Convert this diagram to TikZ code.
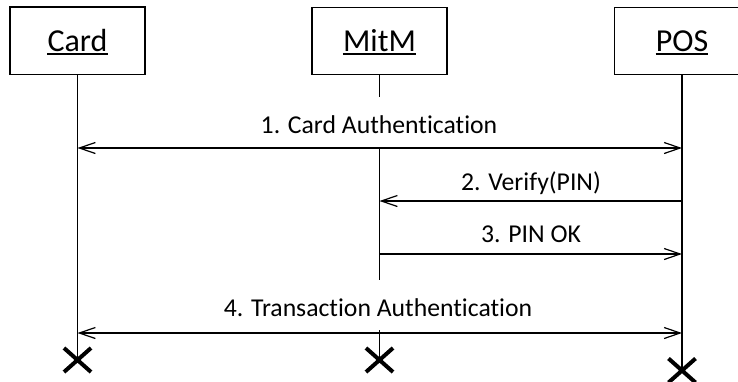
\documentclass[tikz,border=0pt]{standalone}
\usepackage{fontspec}
\setmainfont{Carlito}[Ligatures=NoCommon]
\usetikzlibrary{arrows.meta,shapes.misc}
\begin{document}
\begin{tikzpicture}[x=1pt,y=-1pt,
  mybarb/.tip={Straight Barb[length=16pt,width=11pt]},
  box/.style={draw,line width=1.2pt,minimum width=135pt,minimum height=67.5pt,inner sep=0pt},
  who/.style={inner sep=0pt,anchor=base,font=\fontsize{32}{36}\selectfont},
  msg/.style={inner sep=0pt,anchor=base,fill=white,text height=36pt,text depth=14pt,font=\fontsize{25.7}{30}\selectfont},
  uline/.style={line width=1.5pt},
  life/.style={line width=1.2pt},
  both/.style={line width=1.2pt,{mybarb}-{mybarb}},
  one/.style={line width=1.2pt,-{mybarb}},
  xm/.style={cross out,draw,line width=4pt,minimum width=23pt,minimum height=20pt,inner sep=0pt}]
\useasboundingbox (0,0) rectangle (738,381);
% actors
\node[box] (card) at (77.5,40.75) {};
\node[box] (mitm) at (379.5,41) {};
\node[box] (pos) at (682,41) {};
\node[who] (cardt) at (77.5,51.5) {Card};
\node[who] (mitmt) at (379.5,51.5) {MitM};
\node[who] (post) at (682,51.5) {POS};
\draw[uline] ([yshift=-2.5pt]cardt.base west) -- ([yshift=-2.5pt]cardt.base east);
\draw[uline] ([yshift=-2.5pt]mitmt.base west) -- ([yshift=-2.5pt]mitmt.base east);
\draw[uline] ([yshift=-2.5pt]post.base west) -- ([yshift=-2.5pt]post.base east);
% ends
\node[xm] (cardx) at (77.5,360) {};
\node[xm] (mitmx) at (379.5,360) {};
\node[xm] (posx) at (682,370.5) {};
% lifelines
\draw[life] (card.south) -- (cardx.center);
\draw[life] (mitm.south) -- (mitmx.center);
\draw[life] (pos.south) -- (posx.center);
% labels (white text boxes hide the lifeline)
\node[msg] (m1) at (379,133.3) {1. Card Authentication};
\node[msg] (m2) at (531,190) {2. Verify(PIN)};
\node[msg] (m3) at (531,242) {3. PIN OK};
\node[msg] (m4) at (378,316) {4. Transaction Authentication};
% message end points
\coordinate (c1) at (77.5,148);
\coordinate (p1) at (682,148);
\coordinate (p2) at (682,201);
\coordinate (i2) at (379.5,201);
\coordinate (i3) at (379.5,254);
\coordinate (p3) at (682,254);
\coordinate (c4) at (77.5,333);
\coordinate (p4) at (682,333);
\draw[both] (c1) -- (p1);
\draw[one] (p2) -- (i2);
\draw[one] (i3) -- (p3);
\draw[both] (c4) -- (p4);
\end{tikzpicture}
\end{document}
